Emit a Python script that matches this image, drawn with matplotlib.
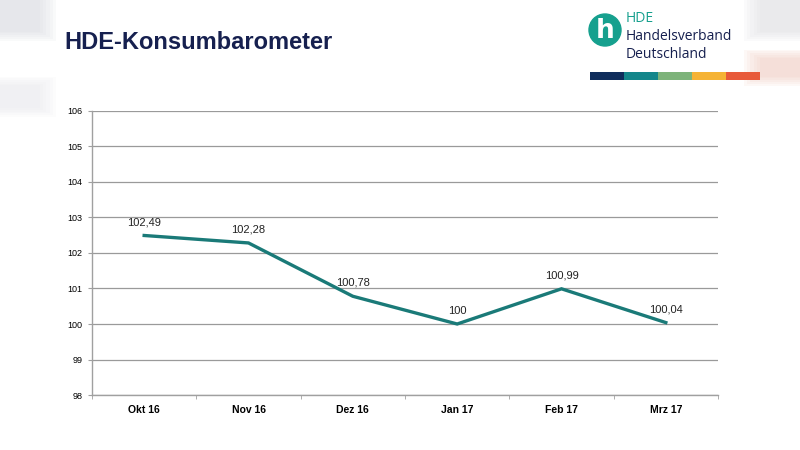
import matplotlib
matplotlib.use("Agg")
import matplotlib.pyplot as plt
from matplotlib.patches import Rectangle, Circle

# Daten
monate = ["Okt 16", "Nov 16", "Dez 16", "Jan 17", "Feb 17", "Mrz 17"]
werte = [102.49, 102.28, 100.78, 100.0, 100.99, 100.04]
labels = ["102,49", "102,28", "100,78", "100", "100,99", "100,04"]
y_ticks = [98, 99, 100, 101, 102, 103, 104, 105, 106]
streifen_farben = ["#0f2d5c", "#13868a", "#7db37a", "#f5b335", "#e85a3a"]

TEAL = "#1a7a78"
NAVY = "#16204f"

fig = plt.figure(figsize=(8, 4.5), dpi=100)
fig.patch.set_facecolor("white")

# leichte, weiche graue Ränder (Folienhintergrund)
for x0, y0, w, h, c in [(0, 0.93, 0.05, 0.07, "#d4d6de"), (0.95, 0.93, 0.05, 0.07, "#dcdce0"),
                        (0, 0.76, 0.05, 0.05, "#e8e8ec"), (0.95, 0.83, 0.05, 0.04, "#f0c8bd")]:
    for k in range(6):
        pad = 0.004 * k
        fig.patches.append(Rectangle((x0 - pad, y0 - pad), w + 2 * pad, h + 2 * pad,
                                     transform=fig.transFigure, color=c, alpha=0.12,
                                     lw=0, zorder=0))

ax = fig.add_axes([0.115, 0.122, 0.7825, 0.632])
x = list(range(len(monate)))
ax.plot(x, werte, color=TEAL, lw=2.4, solid_joinstyle="miter", zorder=3)
for xi, yi, lab in zip(x, werte, labels):
    ax.annotate(lab, (xi, yi), xytext=(0, 6), textcoords="offset points",
                ha="center", va="bottom", fontsize=8, color="#222222",
                family="Liberation Sans")

ax.set_xlim(-0.5, len(monate) - 0.5)
ax.set_ylim(98, 106)
ax.set_yticks(y_ticks)
ax.set_yticklabels([str(v) for v in y_ticks], fontsize=6.5, family="Liberation Sans")
ax.set_xticks(x)
ax.set_xticklabels(monate, fontsize=7.5, fontweight="bold", family="Liberation Sans")
ax.set_xticks([i - 0.5 for i in range(len(monate) + 1)], minor=True)
ax.tick_params(axis="x", which="major", length=0, pad=7)
ax.tick_params(axis="x", which="minor", length=3, color="#a0a0a0", direction="out")
ax.tick_params(axis="y", length=3, color="#a0a0a0", pad=4)
ax.grid(axis="y", color="#9a9a9a", lw=0.9)
ax.set_axisbelow(True)
for s in ["top", "right"]:
    ax.spines[s].set_visible(False)
for s in ["left", "bottom"]:
    ax.spines[s].set_color("#a0a0a0")
    ax.spines[s].set_linewidth(1.0)

# Titel
fig.text(0.08, 0.905, "HDE-Konsumbarometer", fontsize=17, fontweight="bold",
         color=NAVY, family="Liberation Sans", va="center", ha="left")

# Logo (Kreis in Zoll-Koordinaten, damit er rund bleibt)
fig.patches.append(Circle((6.05, 4.2), 0.16, transform=fig.dpi_scale_trans,
                          color="#16a08e", zorder=2))
fig.text(605 / 800, 1 - 31 / 450, "h", fontsize=19, fontweight="bold", color="white",
         ha="center", va="center", family="DejaVu Sans")
fig.text(626 / 800, 1 - 19 / 450, "HDE", fontsize=10, color="#16a08e",
         family="Open Sans", va="center")
fig.text(626 / 800, 1 - 37 / 450, "Handelsverband", fontsize=10, color=NAVY,
         family="Open Sans", va="center")
fig.text(626 / 800, 1 - 55 / 450, "Deutschland", fontsize=10, color=NAVY,
         family="Open Sans", va="center")
sx = 590
for c in streifen_farben:
    fig.patches.append(Rectangle((sx / 800, 1 - 80 / 450), 34 / 800, 8 / 450,
                                 transform=fig.transFigure, color=c, lw=0, zorder=2))
    sx += 34

fig.savefig("out.png", dpi=100)
